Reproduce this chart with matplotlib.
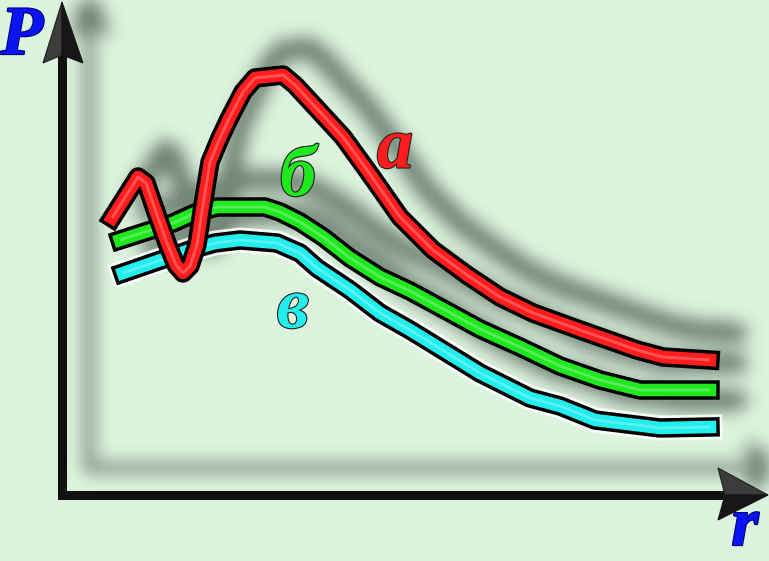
import numpy as np
import matplotlib
matplotlib.use("Agg")
import matplotlib.pyplot as plt
import matplotlib.patheffects as pe
from matplotlib.patches import Polygon

# ---- data (r, P), origin at the axes corner ----
r_a = [50, 76, 84, 95, 105, 114, 121, 128, 135, 141, 148, 158, 168, 181, 193, 221, 233,
       258, 281, 305, 338, 371, 405, 438, 471, 518, 575, 601, 648]
P_a = [277, 318, 312, 280, 252, 230, 222, 229, 250, 290, 333, 357, 378, 403, 417, 420, 410,
       383, 358, 325, 278, 245, 220, 198, 182, 165, 145, 138, 135]

r_b = [58, 83, 111, 133, 155, 203, 218, 238, 261, 288, 318, 348, 418, 458, 498, 538, 578, 648]
P_b = [255, 263, 272, 282, 288, 288, 283, 273, 258, 237, 218, 204, 166, 148, 129, 115, 105, 105]

r_c = [61, 93, 128, 153, 178, 215, 238, 255, 288, 318, 348, 418, 468, 498, 533, 598, 648]
P_c = [222, 233, 245, 252, 255, 252, 242, 227, 205, 182, 165, 122, 97, 89, 75, 67, 68]

labels = ["а", "б", "в"]
label_pos = [(333, 345), (236, 317), (231, 185)]
colors = ["#ff1c1c", "#1fe81f", "#22eeee"]
curves = [(r_a, P_a), (r_b, P_b), (r_c, P_c)]

XLIM = (-62, 707)
YLIM = (-66, 495)
BG = "#dcf3dd"
W, H, DPI = 7.69, 5.61, 100

y_axis_end = 440
x_axis_end = 663
y_arrow = [(0, 493), (-19, 432), (0, 440), (21, 432)]
x_arrow = [(706, 0), (656, 27), (663, 0), (656, -25)]


def setup(ax):
    ax.set_xlim(*XLIM)
    ax.set_ylim(*YLIM)
    ax.axis("off")


# ---- shadow source, rendered offscreen then blurred ----
fs = plt.figure(figsize=(W, H), dpi=DPI, facecolor="white")
axs = fs.add_axes([0, 0, 1, 1])
axs.set_facecolor("white")
setup(axs)
for r, P in curves:
    axs.plot(r, P, color="black", lw=15, solid_joinstyle="round", solid_capstyle="round")
axs.plot([0, 0, x_axis_end], [y_axis_end, 0, 0], color="black", lw=7)
axs.add_patch(Polygon(y_arrow, closed=True, color="black"))
axs.add_patch(Polygon(x_arrow, closed=True, color="black"))
fs.canvas.draw()
buf = np.asarray(fs.canvas.buffer_rgba()).astype(float)
plt.close(fs)
mask = 1.0 - buf[..., 0] / 255.0
hh, ww = mask.shape
dx, dy = 27, 27
shifted = np.zeros_like(mask)
shifted[:hh - dy, dx:] = mask[dy:, :ww - dx]

sigma = 8.5
k = np.arange(-int(3 * sigma), int(3 * sigma) + 1)
kern = np.exp(-k ** 2 / (2 * sigma ** 2))
kern /= kern.sum()
blur = np.apply_along_axis(lambda v: np.convolve(v, kern, mode="same"), 1, shifted)
blur = np.apply_along_axis(lambda v: np.convolve(v, kern, mode="same"), 0, blur)
blur = np.clip(blur * 1.1, 0, 1)
shadow = np.zeros((hh, ww, 4))
shadow[..., 0] = 85 / 255
shadow[..., 1] = 100 / 255
shadow[..., 2] = 88 / 255
shadow[..., 3] = blur * 0.75

# ---- main figure ----
fig = plt.figure(figsize=(W, H), dpi=DPI, facecolor=BG)
ax = fig.add_axes([0, 0, 1, 1])
ax.set_facecolor(BG)
setup(ax)
ax.imshow(shadow, extent=(XLIM[0], XLIM[1], YLIM[0], YLIM[1]), origin="upper",
          aspect="auto", zorder=1, interpolation="bilinear")
ax.set_xlim(*XLIM)
ax.set_ylim(*YLIM)

# axes
ax.plot([0, 0, x_axis_end], [y_axis_end, 0, 0], color="#111111", lw=6.5,
        solid_joinstyle="miter", solid_capstyle="projecting", zorder=3)
for poly in (y_arrow, x_arrow):
    tip, c1, notch, c2 = poly
    ax.add_patch(Polygon([tip, c1, notch], closed=True, facecolor="#3c3c3c",
                         edgecolor="#222222", lw=0.8, zorder=4))
    ax.add_patch(Polygon([tip, notch, c2], closed=True, facecolor="#161616",
                         edgecolor="#161616", lw=0.8, zorder=4))

# curves (cyan, green, red order so red sits on top)
order = [2, 1, 0]
z = 5
for i in order:
    r, P = curves[i]
    if i == 2:
        ax.plot(r, P, color="white", lw=18, alpha=0.85, solid_joinstyle="round",
                solid_capstyle="projecting", zorder=z)
    ax.plot(r, P, color="black", lw=14, solid_joinstyle="round",
            solid_capstyle="projecting", zorder=z + 0.1)
    ax.plot(r, P, color=colors[i], lw=9, solid_joinstyle="round",
            solid_capstyle="projecting", zorder=z + 0.2)
    ax.plot(r, P, color="white", lw=2, alpha=0.25, solid_joinstyle="round",
            solid_capstyle="butt", zorder=z + 0.3)
    z += 1

# curve labels
for txt, (x, y), c in zip(labels, label_pos, colors):
    ax.text(x, y, txt, color=c, fontsize=52, fontfamily="Liberation Serif",
            fontweight="bold", fontstyle="italic", ha="center", va="center", zorder=10,
            path_effects=[pe.withStroke(linewidth=1.6, foreground="#222222")])

# axis letters
ax.text(-40, 458, "P", color="#0a14f0", fontsize=50, fontfamily="Liberation Serif",
        fontweight="bold", fontstyle="italic", ha="center", va="center", zorder=10,
        path_effects=[pe.withStroke(linewidth=1.6, foreground="#000080")])
ax.text(683, -33, "r", color="#0a14f0", fontsize=50, fontfamily="Liberation Serif",
        fontweight="bold", fontstyle="italic", ha="center", va="center", zorder=10,
        path_effects=[pe.withStroke(linewidth=1.6, foreground="#000080")])

fig.savefig("out.png", dpi=DPI, facecolor=BG)
